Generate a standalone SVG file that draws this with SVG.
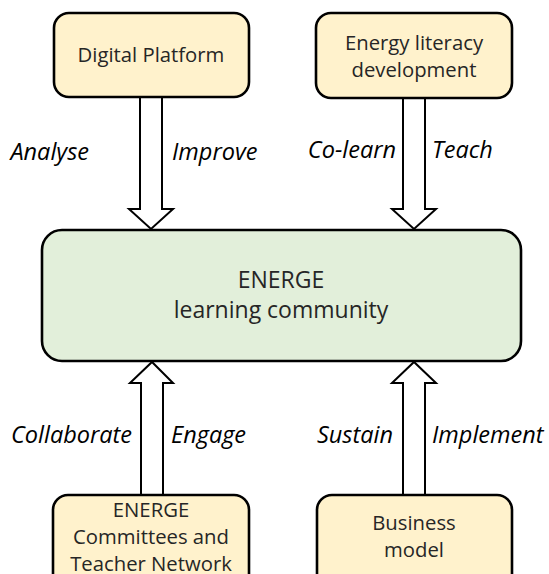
<svg xmlns="http://www.w3.org/2000/svg" width="549" height="574" viewBox="0 0 549 574">
<style>
.box{fill:#FFF2CC;stroke:#000;stroke-width:2.6}
.main{fill:#E2EFDA;stroke:#000;stroke-width:2.6}
.arr{fill:#fff;stroke:#000;stroke-width:2;stroke-linejoin:miter}
.t{font-family:"Open Sans","Liberation Sans",sans-serif;font-size:20.3px;fill:#262626;text-anchor:middle}
.big{font-size:23px}
.lab{font-family:"Open Sans","Liberation Sans",sans-serif;font-style:italic;font-size:23.5px;fill:#000}
.e{text-anchor:end}
</style>
<rect width="549" height="574" fill="#fff"/>
<g id="connectors">
<polygon class="arr" points="140,97 162,97 162,209 173,209 151,229 129,209 140,209"/>
<polygon class="arr" points="403,98 425,98 425,209 436,209 414,229 392,209 403,209"/>
<polygon class="arr" points="141,495 163,495 163,383 173,383 152,362 130,383 141,383"/>
<polygon class="arr" points="403,495 425,495 425,383 436,383 414,362 392,383 403,383"/>
<text class="lab e" x="89" y="160">Analyse</text>
<text class="lab" x="172" y="160">Improve</text>
<text class="lab e" x="396" y="158">Co-learn</text>
<text class="lab" x="432" y="158">Teach</text>
<text class="lab e" x="132" y="443">Collaborate</text>
<text class="lab" x="171" y="443">Engage</text>
<text class="lab e" x="393" y="443">Sustain</text>
<text class="lab" x="432" y="443">Implement</text>
</g>
<g id="digital-platform">
<rect class="box" x="54" y="13" width="195" height="84" rx="15"/>
<text class="t" x="151" y="62">Digital Platform</text>
</g>
<g id="energy-literacy">
<rect class="box" x="316" y="13" width="196" height="85" rx="15"/>
<text class="t" x="414" y="50">Energy literacy</text>
<text class="t" x="414" y="77">development</text>
</g>
<g id="learning-community">
<rect class="main" x="42" y="230" width="479" height="131" rx="20"/>
<text class="t big" x="281" y="288">ENERGE</text>
<text class="t big" x="281" y="318">learning community</text>
</g>
<g id="committees">
<rect class="box" x="53" y="495" width="196" height="100" rx="15"/>
<text class="t" x="151" y="517">ENERGE</text>
<text class="t" x="151" y="544">Committees and</text>
<text class="t" x="151" y="571">Teacher Network</text>
</g>
<g id="business-model">
<rect class="box" x="317" y="495" width="195" height="100" rx="15"/>
<text class="t" x="414" y="530">Business</text>
<text class="t" x="414" y="557">model</text>
</g>
</svg>
